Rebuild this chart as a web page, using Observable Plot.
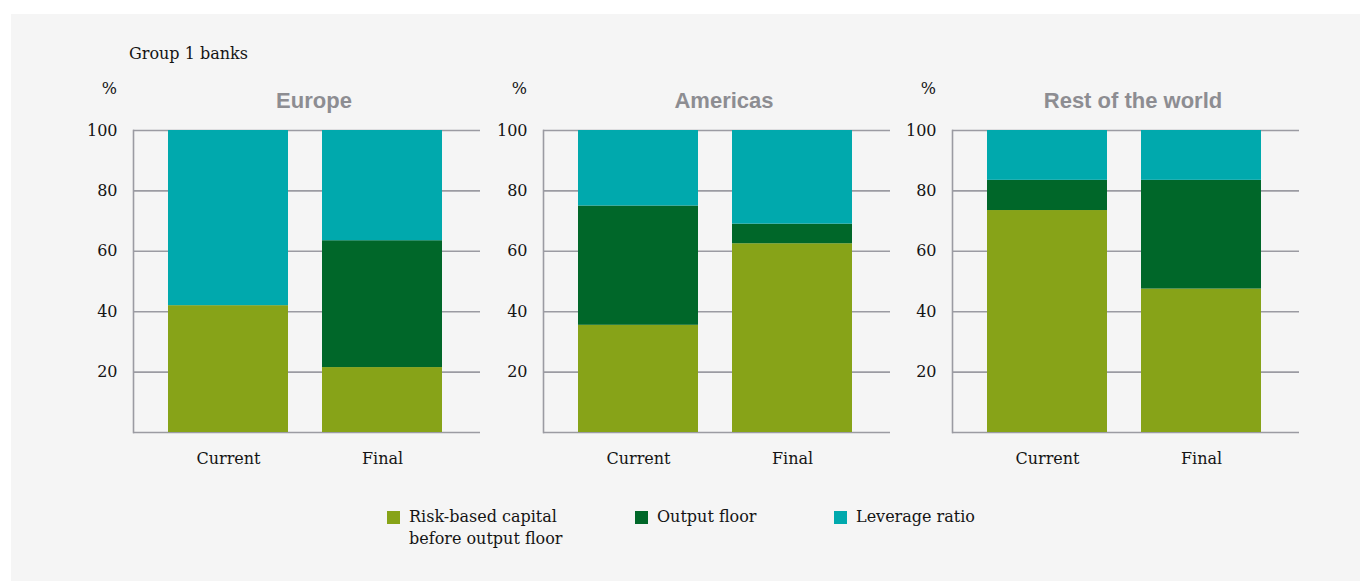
<!DOCTYPE html>
<html>
<head>
<meta charset="utf-8">
<script src="https://cdn.jsdelivr.net/npm/d3@7"></script>
<script src="https://cdn.jsdelivr.net/npm/@observablehq/plot@0.6"></script>
<style>
  html, body { margin: 0; padding: 0; background: #ffffff; }
  #root { position: relative; width: 1360px; height: 581px; overflow: hidden; background: #ffffff; }
  #panelbg { position: absolute; left: 11px; top: 14px; right: 0; bottom: 0; background: #f5f5f5; }
  .serif { font-family: "DejaVu Serif", serif; color: #141414; }
  .title { position: absolute; left: 129px; top: 44px; font-size: 16px; }
  .pct { position: absolute; font-size: 16px; width: 30px; text-align: right; top: 79px; }
  .ptitle { position: absolute; top: 88px; width: 300px; text-align: center; font-family: "Liberation Sans", Arial, sans-serif; font-weight: bold; font-size: 22px; color: #8d8d92; }
  .chart { position: absolute; top: 120px; }
  .leg { position: absolute; top: 506px; font-size: 16px; line-height: 22px; display: flex; align-items: flex-start; }
  .leg .sw { width: 13px; height: 13px; margin-top: 5px; margin-right: 9px; flex: none; }
  .leg .tx { width: 175px; }
</style>
</head>
<body>
<div id="root">
  <div id="panelbg"></div>
</div>
<script>
const regions = ["Europe", "Americas", "Rest of the world"];
const periods = ["Current", "Final"];
const seriesNames = ["Risk-based capital before output floor", "Output floor", "Leverage ratio"];
const seriesColors = ["#87a318", "#006729", "#00a9ad"];
const titleText = "Group 1 banks";
const unitLabel = "%";
const yTicks = [20, 40, 60, 80, 100];
const gridValues = [0, 20, 40, 60, 80, 100];
// values per bar, in order: Europe Current, Europe Final, Americas Current, Americas Final, RoW Current, RoW Final
const riskBased   = [42, 21.5, 35.5, 62.5, 73.5, 47.5];
const outputFloor = [0, 42, 39.5, 6.5, 10, 36];
const leverage    = [58, 36.5, 25, 31, 16.5, 16.5];

const seriesValues = [riskBased, outputFloor, leverage];
const rows = [];
regions.forEach((r, ri) => periods.forEach((p, pi) => {
  const k = ri * periods.length + pi;
  seriesNames.forEach((s, si) => rows.push({region: r, period: p, series: s, value: seriesValues[si][k]}));
}));

const root = document.getElementById("root");
const t = document.createElement("div");
t.className = "serif title";
t.textContent = titleText;
root.appendChild(t);

const panelLefts = [71, 481, 890];
const marginLeft = 62;
const plotW = 347;
regions.forEach((r, i) => {
  const left = panelLefts[i];
  const pct = document.createElement("div");
  pct.className = "serif pct";
  pct.style.left = (left + marginLeft - 16 - 30) + "px";
  pct.textContent = unitLabel;
  root.appendChild(pct);

  const pt = document.createElement("div");
  pt.className = "ptitle";
  pt.style.left = (left + marginLeft + 181 - 150) + "px";
  pt.textContent = r;
  root.appendChild(pt);

  const chart = Plot.plot({
    width: marginLeft + plotW,
    height: 352,
    marginLeft,
    marginRight: 0,
    marginTop: 10,
    marginBottom: 40,
    style: {background: "transparent", fontFamily: "DejaVu Serif, serif", fontSize: "16px", color: "#141414"},
    x: {domain: periods, paddingInner: 0.218, paddingOuter: 0.235, align: 0.48},
    y: {domain: [0, 100]},
    color: {domain: seriesNames, range: seriesColors},
    marks: [
      Plot.ruleY(gridValues, {stroke: "#9b9ba2", strokeWidth: 1.6}),
      Plot.frame({anchor: "left", stroke: "#9b9ba2", strokeWidth: 1.6}),
      Plot.barY(rows.filter(d => d.region === r), {x: "period", y: "value", fill: "series", order: seriesNames}),
      Plot.axisY({ticks: yTicks, tickSize: 0, tickPadding: 16, label: null, fontSize: 16}),
      Plot.axisX({tickSize: 0, tickPadding: 20, label: null, fontSize: 16})
    ]
  });
  chart.classList.add("chart");
  chart.style.position = "absolute";
  chart.style.left = left + "px";
  chart.style.top = "120px";
  root.appendChild(chart);
});

const legendLefts = [387, 635, 834];
seriesNames.forEach((s, i) => {
  const item = document.createElement("div");
  item.className = "serif leg";
  item.style.left = legendLefts[i] + "px";
  const sw = document.createElement("div");
  sw.className = "sw";
  sw.style.background = seriesColors[i];
  const tx = document.createElement("div");
  tx.className = "tx";
  tx.textContent = s;
  item.appendChild(sw);
  item.appendChild(tx);
  root.appendChild(item);
});
</script>
</body>
</html>
